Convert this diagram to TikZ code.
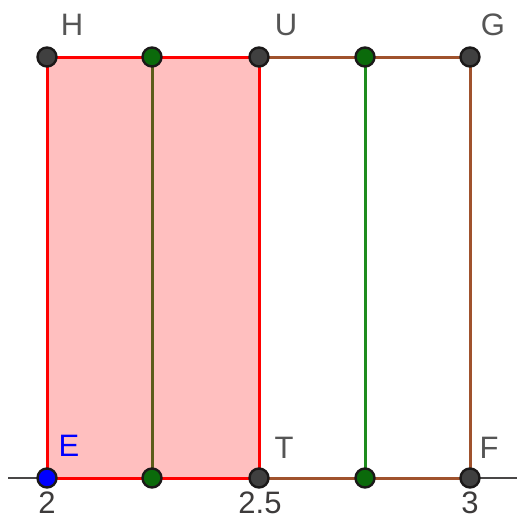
\documentclass[tikz,border=0pt]{standalone}
\usepackage{fontspec}
\setmainfont{Liberation Sans}
\usepackage{xcolor}
\usepackage{tikz}
\usetikzlibrary{positioning,calc}
\definecolor{ink}{HTML}{1B1919}
\definecolor{gDot}{HTML}{404040}
\definecolor{gRed}{HTML}{FF0000}
\definecolor{gPink}{HTML}{FFBFBF}
\definecolor{gBrown}{HTML}{A0522D}
\definecolor{gOlive}{HTML}{5C5C1A}
\definecolor{gGreen}{HTML}{1E8C1E}
\definecolor{gDkGreen}{HTML}{0B6A0B}
\definecolor{gBlue}{HTML}{0000FF}
\definecolor{gLabel}{HTML}{555555}
\tikzset{
  pt/.style={circle, draw=ink, fill=gDot, line width=1.2pt, inner sep=0pt, minimum size=9.5pt},
  midpt/.style={pt, fill=gDkGreen},
  seg/.style={line width=1.5pt},
  lbl/.style={font=\fontsize{15.5}{18}\selectfont, text=gLabel, inner sep=1pt},
}
\begin{document}
\begin{tikzpicture}[x=0.5pt, y=-0.5pt]
\useasboundingbox (0,0) rectangle (517,520);
% points
\coordinate (E) at (47,478);
\coordinate (T) at (259,478);
\coordinate (F) at (470,478);
\coordinate (H) at (47,57);
\coordinate (U) at (259,57);
\coordinate (G) at (470,57);
\coordinate (A) at (152,478);
\coordinate (B) at (152,57);
\coordinate (C) at (365,478);
\coordinate (D) at (365,57);
\coordinate (axL) at (8,478);
\coordinate (axR) at (517,478);
% rectangle EHUT
\fill[gPink] (E) rectangle (U);
\draw[line width=1pt, ink!80] (axL) -- (axR);
\draw[seg, gBrown] (T) -- (F) -- (G) -- (U);
\draw[seg, gRed] (E) -- (T) -- (U) -- (H) -- cycle;
\draw[seg, gOlive] (A) -- (B);
\draw[seg, gGreen] (C) -- (D);
% dots
\foreach \p in {T,F,H,U,G}
  \node[pt] (d\p) at (\p) {};
\foreach \p in {A,B,C,D}
  \node[midpt] (d\p) at (\p) {};
\node[pt, fill=gBlue] (dE) at (E) {};
% labels
\node[lbl] at (72,25) {H};
\node[lbl] at (286,25) {U};
\node[lbl] at (493,25) {G};
\node[lbl, text=gBlue] at (69,446) {E};
\node[lbl] at (284,448) {T};
\node[lbl] at (489,448) {F};
\node[lbl, text=ink!85] at (47,503) {2};
\node[lbl, text=ink!85] at (260,503) {2.5};
\node[lbl, text=ink!85] at (470,503) {3};
\end{tikzpicture}
\end{document}
